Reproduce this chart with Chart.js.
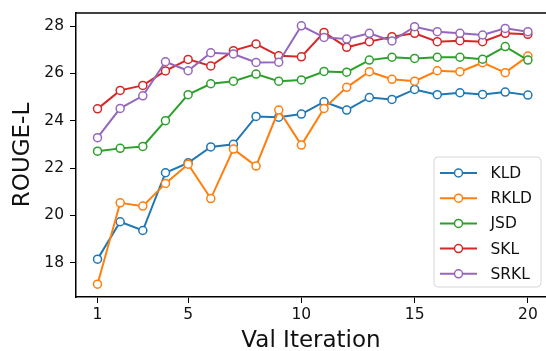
<!DOCTYPE html>
<html lang="en">
<head>
    <meta charset="UTF-8">
    <title>ROUGE-L vs Val Iteration</title>
    <script src="https://cdn.jsdelivr.net/npm/chart.js"></script>
    <style>
        html, body { margin: 0; padding: 0; background: #fff; overflow: hidden; }
        canvas { display: block; }
    </style>
</head>
<body>
    <canvas id="rougeChart" width="546" height="351"></canvas>

    <script>
        // values
        const iterations = [1, 2, 3, 4, 5, 6, 7, 8, 9, 10, 11, 12, 13, 14, 15, 16, 17, 18, 19, 20];
        const seriesNames = ['KLD', 'RKLD', 'JSD', 'SKL', 'SRKL'];
        const kld  = [18.15, 19.73, 19.36, 21.80, 22.22, 22.89, 23.00, 24.18, 24.15, 24.28, 24.80, 24.45, 24.98, 24.90, 25.32, 25.10, 25.18, 25.11, 25.21, 25.08];
        const rkld = [17.09, 20.53, 20.39, 21.35, 22.16, 20.71, 22.80, 22.08, 24.45, 22.97, 24.52, 25.41, 26.07, 25.75, 25.67, 26.11, 26.07, 26.45, 26.03, 26.73];
        const jsd  = [22.71, 22.83, 22.91, 24.00, 25.10, 25.56, 25.67, 25.97, 25.67, 25.72, 26.08, 26.05, 26.56, 26.68, 26.63, 26.68, 26.68, 26.60, 27.13, 26.56];
        const skl  = [24.50, 25.28, 25.49, 26.10, 26.59, 26.31, 26.96, 27.24, 26.74, 26.70, 27.73, 27.10, 27.34, 27.55, 27.69, 27.34, 27.38, 27.34, 27.69, 27.65];
        const srkl = [23.28, 24.52, 25.05, 26.49, 26.11, 26.87, 26.82, 26.46, 26.47, 28.01, 27.52, 27.45, 27.69, 27.37, 27.97, 27.76, 27.69, 27.62, 27.90, 27.76];
        const xTicks = [1, 5, 10, 15, 20];
        const yTicks = [18, 20, 22, 24, 26, 28];

        const seriesValues = [kld, rkld, jsd, skl, srkl];
        const colors = ['#1f77b4', '#ff7f0e', '#2ca02c', '#d62728', '#9467bd'];
        const FONT = "'DejaVu Sans', sans-serif";

        const datasets = seriesNames.map((name, i) => ({
            label: name,
            data: iterations.map((x, j) => ({ x: x, y: seriesValues[i][j] })),
            borderColor: colors[i],
            backgroundColor: colors[i],
            borderWidth: 2,
            pointRadius: 4,
            pointBorderWidth: 1.5,
            pointBackgroundColor: '#fff',
            pointBorderColor: colors[i],
            tension: 0,
            order: seriesNames.length - i
        }));

        // top spine + matplotlib-like legend box
        const frameAndLegend = {
            id: 'frameAndLegend',
            afterDraw(chart) {
                const ctx = chart.ctx;
                const area = chart.chartArea;
                ctx.save();
                ctx.strokeStyle = '#000';
                ctx.lineWidth = 1.5;
                ctx.beginPath();
                ctx.moveTo(area.left, area.top);
                ctx.lineTo(area.right, area.top);
                ctx.stroke();

                const boxW = 107, rowH = 25.2;
                const boxH = 130;
                const bx = area.right - 5 - boxW;
                const by = area.bottom - 10 - boxH;
                ctx.beginPath();
                ctx.roundRect(bx, by, boxW, boxH, 4);
                ctx.fillStyle = 'rgba(255,255,255,0.8)';
                ctx.fill();
                ctx.strokeStyle = '#d6d6d6';
                ctx.lineWidth = 1;
                ctx.stroke();

                ctx.font = '15.5px ' + FONT;
                ctx.textBaseline = 'middle';
                chart.data.datasets.forEach((ds, i) => {
                    const cy = by + 16 + i * rowH;
                    ctx.strokeStyle = ds.borderColor;
                    ctx.lineWidth = 2;
                    ctx.beginPath();
                    ctx.moveTo(bx + 6, cy);
                    ctx.lineTo(bx + 43, cy);
                    ctx.stroke();
                    ctx.beginPath();
                    ctx.arc(bx + 24.5, cy, 4, 0, Math.PI * 2);
                    ctx.fillStyle = '#fff';
                    ctx.fill();
                    ctx.lineWidth = 1.5;
                    ctx.stroke();
                    ctx.fillStyle = '#111';
                    ctx.fillText(ds.label, bx + 56.5, cy + 1);
                });
                ctx.restore();
            }
        };

        new Chart(document.getElementById('rougeChart'), {
            type: 'line',
            data: { datasets: datasets },
            options: {
                responsive: false,
                animation: false,
                layout: { autoPadding: false, padding: { top: 13, left: 0, right: 0, bottom: 0 } },
                plugins: {
                    legend: { display: false },
                    tooltip: { enabled: false }
                },
                scales: {
                    x: {
                        type: 'linear',
                        min: 0.05,
                        max: 20.8,
                        afterBuildTicks: s => { s.ticks = xTicks.map(v => ({ value: v })); },
                        afterFit: s => { s.height = 54; s.paddingLeft = 0; s.paddingRight = 0; },
                        grid: { drawOnChartArea: false, drawTicks: true, tickLength: 6, color: '#000', lineWidth: 1 },
                        border: { display: true, color: '#000', width: 1.5 },
                        ticks: { color: '#111', padding: 3, maxRotation: 0, font: { family: FONT, size: 15.5 } },
                        title: {
                            display: true, text: 'Val Iteration', color: '#111',
                            padding: { top: 0, bottom: 0 },
                            font: { family: FONT, size: 23, lineHeight: 0.9 }
                        }
                    },
                    y: {
                        type: 'linear',
                        min: 16.55,
                        max: 28.55,
                        afterBuildTicks: s => { s.ticks = yTicks.map(v => ({ value: v })); },
                        afterFit: s => { s.width = 76; s.paddingTop = 0; s.paddingBottom = 0; },
                        grid: { drawOnChartArea: false, drawTicks: true, tickLength: 6, color: '#000', lineWidth: 1 },
                        border: { display: true, color: '#000', width: 1.5 },
                        ticks: { color: '#111', padding: 6, font: { family: FONT, size: 15.5 } },
                        title: {
                            display: true, text: 'ROUGE-L', color: '#111',
                            padding: { top: 13, bottom: 0 },
                            font: { family: FONT, size: 23, lineHeight: 0.9 }
                        }
                    }
                }
            },
            plugins: [frameAndLegend]
        });
    </script>
</body>
</html>
